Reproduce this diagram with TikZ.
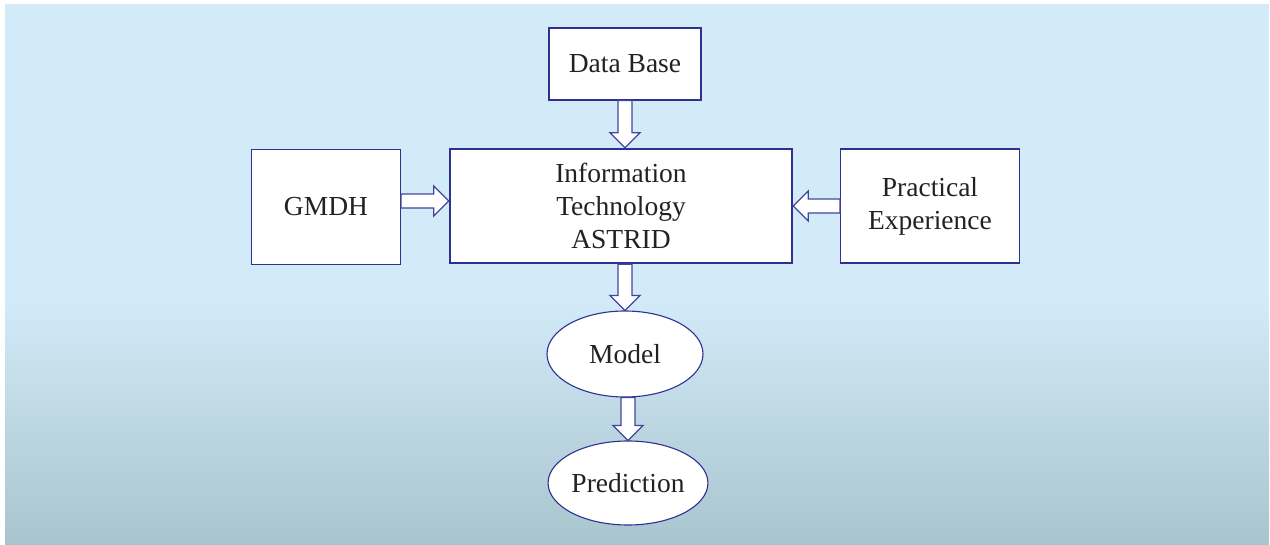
\documentclass[tikz,border=0pt]{standalone}
\usepackage{fontspec}
\setmainfont{Liberation Serif}
\usetikzlibrary{calc, shapes.geometric}

\definecolor{boxblue}{HTML}{2E3192}
\definecolor{skytop}{HTML}{D3EAF8}
\definecolor{skybottom}{HTML}{A8C5CD}
\definecolor{inktext}{HTML}{222222}

\tikzset{
  box/.style={draw=boxblue, fill=white, line width=1.1pt, text=inktext, align=center, inner sep=0pt,
    font=\fontsize{27.5}{33}\selectfont},
  bigbox/.style={box, line width=2.6pt},
  oval/.style={box, ellipse},
  fatarrow/.style={draw=boxblue!90, fill=white, line width=1.3pt, line join=miter},
}

% hollow block arrow from #1 to #2
\newcommand{\hollowarrow}[2]{%
  \path (#1) coordinate (tailend) (#2) coordinate (tipend);
  \path ($(tipend)!15pt!(tailend)$) coordinate (headbase);
  \draw[fatarrow] ($(tailend)!7pt!90:(tipend)$) -- ($(headbase)!7pt!90:(tipend)$)
    -- ($(headbase)!15pt!90:(tipend)$) -- (tipend) -- ($(headbase)!15pt!-90:(tipend)$)
    -- ($(headbase)!7pt!-90:(tipend)$) -- ($(tailend)!7pt!-90:(tipend)$) -- cycle;
}

\begin{document}
\begin{tikzpicture}[x=1pt, y=-1pt]
% Page and sky background
\useasboundingbox (0,0) rectangle (1270,545);
\fill[skytop] (5,4) rectangle (1269,301);
\shade[top color=skytop, bottom color=skybottom] (5,300) rectangle (1269,544);
% Data source
\node[box, minimum width=152pt, minimum height=72pt] (db) at (625,64) {Data Base};
% Central block
\node[bigbox, minimum width=342pt, minimum height=114pt] (it) at (621,206) {Information\\Technology\\ASTRID};
% Side inputs
\node[box, minimum width=149pt, minimum height=115pt] (gmdh) at (326,207) {GMDH};
\node[box, minimum width=179pt, minimum height=114pt] (pe) at (930,206) {Practical\\Experience};
% Outputs
\node[oval, minimum width=156pt, minimum height=86pt] (model) at (625,354) {Model};
\node[oval, minimum width=157pt, minimum height=84pt] (pred) at (628,483) {Prediction};
% Arrows
\coordinate (gmdhout) at ($(gmdh.east)+(0,-6)$);
\hollowarrow{db.south}{db.south |- it.north}
\hollowarrow{gmdhout}{gmdhout -| it.west}
\hollowarrow{pe.west}{pe.west -| it.east}
\hollowarrow{it.south -| model.north}{model.north}
\hollowarrow{model.south -| pred.north}{pred.north}
\end{tikzpicture}
\end{document}
